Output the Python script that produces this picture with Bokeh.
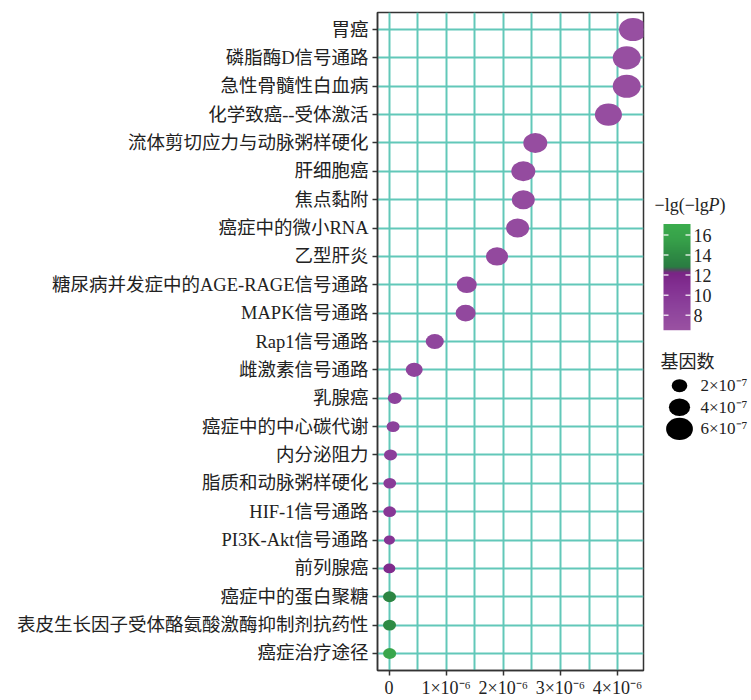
import numpy as np
from bokeh.plotting import figure
from bokeh.models import Range1d, FixedTicker, LinearColorMapper, Label, ColumnDataSource
from bokeh.layouts import row
from bokeh.embed import file_html
from bokeh.resources import INLINE

# ---- data (top row first) ----
pathways = [
    "胃癌", "磷脂酶D信号通路", "急性骨髓性白血病", "化学致癌--受体激活",
    "流体剪切应力与动脉粥样硬化", "肝细胞癌", "焦点黏附", "癌症中的微小RNA",
    "乙型肝炎", "糖尿病并发症中的AGE-RAGE信号通路", "MAPK信号通路", "Rap1信号通路",
    "雌激素信号通路", "乳腺癌", "癌症中的中心碳代谢", "内分泌阻力",
    "脂质和动脉粥样硬化", "HIF-1信号通路", "PI3K-Akt信号通路", "前列腺癌",
    "癌症中的蛋白聚糖", "表皮生长因子受体酪氨酸激酶抑制剂抗药性", "癌症治疗途径",
]
ratio = [4.27e-6, 4.16e-6, 4.16e-6, 3.84e-6, 2.56e-6, 2.35e-6, 2.35e-6, 2.25e-6,
         1.89e-6, 1.36e-6, 1.34e-6, 0.80e-6, 0.44e-6, 0.10e-6, 0.07e-6, 0.025e-6,
         0.012e-6, 0.010e-6, 0.006e-6, 0.005e-6, 0.008e-6, 0.008e-6, 0.010e-6]
neg_lg = [7.0, 7.0, 7.1, 7.2, 7.3, 7.5, 7.5, 7.6, 7.8, 8.0, 8.0, 8.3, 8.5, 8.8,
          9.0, 9.3, 9.6, 10.0, 10.5, 11.5, 13.5, 14.0, 16.3]
gene_count = [6.4e-7, 6.4e-7, 6.4e-7, 6.1e-7, 5.0e-7, 5.0e-7, 4.6e-7, 4.6e-7,
              4.3e-7, 3.6e-7, 3.6e-7, 2.9e-7, 2.5e-7, 1.4e-7, 1.1e-7, 1.1e-7,
              1.0e-7, 1.0e-7, 0.4e-7, 0.7e-7, 1.1e-7, 1.1e-7, 1.1e-7]
x_ticks = [0, 1e-6, 2e-6, 3e-6, 4e-6]
x_tick_labels = ["0", "1×10⁻⁶", "2×10⁻⁶", "3×10⁻⁶", "4×10⁻⁶"]
color_ticks = [8, 10, 12, 14, 16]
size_breaks = [2e-7, 4e-7, 6e-7]
size_labels = ["2×10⁻⁷", "4×10⁻⁷", "6×10⁻⁷"]

FONT = "Liberation Serif, Noto Sans CJK SC"
INK = "#222222"
GRID = "#62c8b9"
H = 700


def dot_width(count):
    """Screen width (px) of a point for a given gene count."""
    return 10 + 2.8 * (np.asarray(count) / 1e-7)


def make_palette(stops, n=256):
    vals = np.array([s[0] for s in stops])
    rgb = np.array([[int(c[i:i + 2], 16) for i in (1, 3, 5)] for _, c in stops])
    grid = np.linspace(vals[0], vals[-1], n)
    out = []
    for g in grid:
        r, gg, b = (np.interp(g, vals, rgb[:, k]) for k in range(3))
        out.append("#%02x%02x%02x" % (int(round(r)), int(round(gg)), int(round(b))))
    return out


c_low, c_high = 6.5, 17.1
palette = make_palette([
    (6.5, "#9a52a2"), (9.0, "#8c419b"), (11.0, "#822f91"), (12.2, "#7a2586"),
    (12.5, "#4f4c5e"), (12.8, "#2a7c42"), (14.0, "#2e8b44"), (15.5, "#36a049"),
    (17.1, "#3bac4d"),
])
mapper = LinearColorMapper(palette=palette, low=c_low, high=c_high)

n = len(pathways)
ypos = [n - 1 - i for i in range(n)]
w = dot_width(gene_count)
src = ColumnDataSource(dict(x=ratio, y=ypos, c=neg_lg, w=w, h=w * 0.83))

# ---- main bubble plot ----
p = figure(width=646, height=H,
           x_range=Range1d(-0.2026e-6, 4.454e-6), y_range=Range1d(-0.6, n - 1 + 0.6),
           output_backend="svg", toolbar_location=None,
           min_border_left=377, min_border_right=3, min_border_top=12, min_border_bottom=25)

p.ellipse(x="x", y="y", width="w", height="h", width_units="screen", height_units="screen",
          source=src, fill_color={"field": "c", "transform": mapper}, line_color=None)

p.xaxis.ticker = FixedTicker(ticks=x_ticks,
                             minor_ticks=[t + 0.5e-6 for t in x_ticks])
p.xaxis.major_label_overrides = {t: lab for t, lab in zip(x_ticks, x_tick_labels)}
p.yaxis.ticker = FixedTicker(ticks=ypos)
p.yaxis.major_label_overrides = {y: name for y, name in zip(ypos, pathways)}

for ax in (p.xaxis, p.yaxis):
    ax.axis_line_color = "#333333"
    ax.axis_line_width = 1.5
    ax.major_tick_line_color = "#333333"
    ax.major_tick_line_width = 1.5
    ax.major_tick_out = 5
    ax.major_tick_in = 0
    ax.minor_tick_line_color = None
    ax.major_label_text_font = FONT
    ax.major_label_text_color = INK
p.xaxis.major_label_text_font_size = "18px"
p.yaxis.major_label_text_font_size = "18.5px"
p.xaxis.major_label_standoff = 2
p.yaxis.major_label_standoff = 4

p.xgrid.grid_line_color = GRID
p.xgrid.grid_line_width = 2
p.xgrid.minor_grid_line_color = GRID
p.xgrid.minor_grid_line_width = 2
p.ygrid.grid_line_color = GRID
p.ygrid.grid_line_width = 2

p.outline_line_color = "#333333"
p.outline_line_width = 1.5
p.background_fill_color = "white"

# ---- legend panel: colour bar and size key (x, y in pixels, y upward) ----
lg = figure(width=105, height=H, x_range=Range1d(0, 105), y_range=Range1d(0, H),
            output_backend="svg", toolbar_location=None, min_border=0,
            x_axis_location=None, y_axis_location=None)
lg.grid.visible = False
lg.outline_line_color = None


def px(top):
    """Convert a distance from the top edge into the panel's upward y."""
    return H - top


# colour-bar value scale: bar occupies 225..338 px from the top
bar_top, bar_bot, bar_x, bar_w = 225, 338, 17, 27
per_px = (c_high - c_low) / (bar_bot - bar_top)
lg.extra_y_ranges = {"cbar": Range1d(c_low - (H - bar_bot) * per_px,
                                     c_high + bar_top * per_px)}

grad = np.linspace(c_low, c_high, 256).reshape(256, 1)
lg.image(image=[grad], x=bar_x, y=c_low, dw=bar_w, dh=c_high - c_low,
         color_mapper=mapper, y_range_name="cbar")
tick_len = 5
lg.segment(x0=[bar_x] * len(color_ticks), x1=[bar_x + tick_len] * len(color_ticks),
           y0=color_ticks, y1=color_ticks, line_color="white", line_width=1.5,
           line_alpha=0.8, y_range_name="cbar")
lg.segment(x0=[bar_x + bar_w - tick_len] * len(color_ticks),
           x1=[bar_x + bar_w] * len(color_ticks),
           y0=color_ticks, y1=color_ticks, line_color="white", line_width=1.5,
           line_alpha=0.8, y_range_name="cbar")
lg.text(x=[bar_x + bar_w + 3] * len(color_ticks), y=color_ticks,
        text=[str(t) for t in color_ticks], text_font={"value": FONT},
        text_font_size="18px", text_color=INK, text_baseline="middle",
        y_range_name="cbar")

title_y = px(205)
lg.add_layout(Label(x=8, y=title_y, text="−lg(−lg", text_font=FONT, text_font_size="18px",
                    text_color=INK, text_baseline="middle"))
lg.add_layout(Label(x=62, y=title_y, text="P", text_font=FONT, text_font_size="18px",
                    text_font_style="italic", text_color=INK, text_baseline="middle"))
lg.add_layout(Label(x=73, y=title_y, text=")", text_font=FONT, text_font_size="18px",
                    text_color=INK, text_baseline="middle"))

lg.add_layout(Label(x=14, y=px(372), text="基因数", text_font=FONT, text_font_size="18px",
                    text_color=INK, text_baseline="middle"))

key_y = [px(397), px(420), px(443)]
kw = dot_width(size_breaks)
lg.ellipse(x=[33] * 3, y=key_y, width=kw, height=kw * 0.83,
           width_units="screen", height_units="screen", fill_color="black", line_color=None)
lg.text(x=[54] * 3, y=key_y, text=size_labels, text_font={"value": FONT},
        text_font_size="17px", text_color=INK, text_baseline="middle")

layout = row(p, lg, spacing=0)
open("out.html", "w").write(file_html(layout, INLINE))
